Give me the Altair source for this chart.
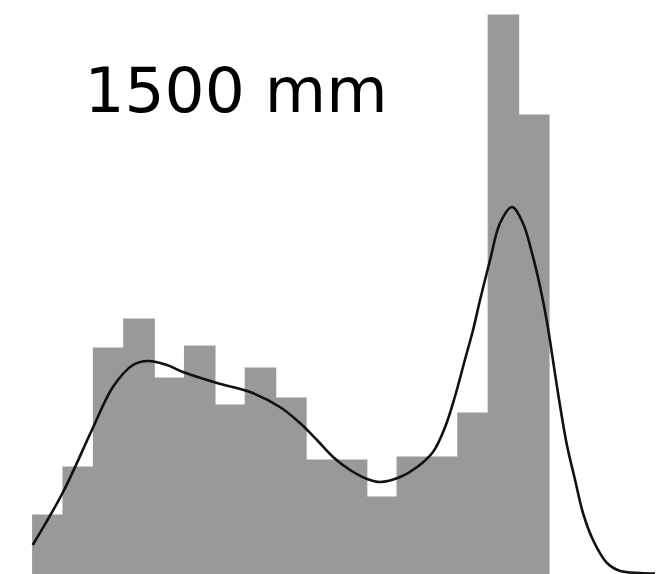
import altair as alt
import pandas as pd

# Histogram bins (bin index units) and bar heights
bin_start = list(range(17))
bar_height = [5.9, 10.7, 22.6, 25.5, 19.6, 22.8, 16.9, 20.6, 17.6, 11.4,
              11.4, 7.7, 11.7, 11.7, 16.1, 55.9, 45.9]

# Density curve points
curve_x = [0.0, 1.0, 1.95, 2.64, 3.30, 3.80, 4.42, 4.95, 6.07, 7.16, 8.14, 8.80,
           9.36, 9.89, 10.45, 11.01, 11.44, 12.10, 12.66, 13.18, 13.58, 13.90,
           14.23, 14.50, 14.73, 15.06, 15.39, 15.78, 16.14, 16.44, 16.71, 16.94,
           17.13, 17.36, 17.59, 17.86, 18.12, 18.45, 18.91, 19.35, 20.01, 20.49]
curve_y = [2.9, 8.2, 14.4, 18.7, 20.9, 21.3, 20.9, 20.2, 19.1, 18.2, 16.7, 15.1,
           13.4, 11.7, 10.4, 9.5, 9.2, 9.7, 10.7, 12.2, 14.7, 17.7,
           21.4, 24.4, 27.4, 31.4, 35.1, 36.7, 35.1, 32.1, 28.7, 25.1,
           21.4, 16.9, 12.9, 9.4, 6.1, 3.4, 1.1, 0.3, 0.1, 0.05]

label = ["1500 mm"]

bars = pd.DataFrame({
    "start": bin_start,
    "end": [b + 1 for b in bin_start],
    "count": bar_height,
})
curve = pd.DataFrame({"x": curve_x, "y": curve_y})
text_df = pd.DataFrame({"label": label})

xscale = alt.Scale(domain=[-1.077, 20.557], nice=False, zero=False)
yscale = alt.Scale(domain=[0, 57.4], nice=False, zero=True)

bar_layer = alt.Chart(bars).mark_rect(
    color="#999999", stroke="#999999", strokeWidth=1.2
).encode(
    x=alt.X("start:Q", scale=xscale, axis=None),
    x2="end:Q",
    y=alt.Y("count:Q", scale=yscale, axis=None),
    y2=alt.datum(0),
)

line_layer = alt.Chart(curve).mark_line(
    color="#111111", strokeWidth=2.6, interpolate="catmull-rom"
).encode(
    x=alt.X("x:Q", scale=xscale, axis=None),
    y=alt.Y("y:Q", scale=yscale, axis=None),
)

text_layer = alt.Chart(text_df).mark_text(
    font="DejaVu Sans", fontSize=63, align="center", baseline="alphabetic", color="#000000"
).encode(
    x=alt.value(236),
    y=alt.value(112),
    text="label:N",
)

chart = alt.layer(bar_layer, line_layer, text_layer).properties(
    width=657, height=574, padding=0, autosize="none"
).configure_view(stroke=None)

chart.save("out.html", embed_options={"renderer": "svg", "actions": False})
